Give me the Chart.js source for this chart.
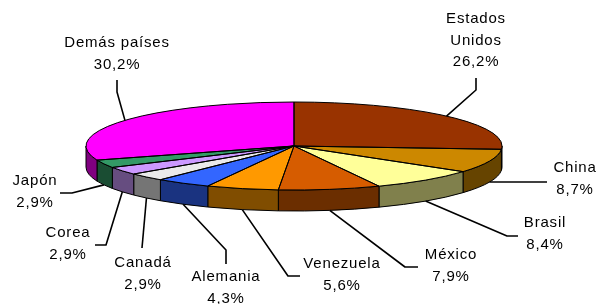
<!DOCTYPE html>
<html><head><meta charset="utf-8">
<script src="https://cdn.jsdelivr.net/npm/chart.js@4"></script>
<style>html,body{margin:0;padding:0;background:#fff;}canvas{display:block;}</style>
</head><body>
<canvas id="c" width="596" height="304"></canvas>
<script>
// ---- data ----
const categories = ['Estados Unidos','China','Brasil','México','Venezuela','Alemania','Canadá','Corea','Japón','Demás países'];
const shares = [26.2, 8.7, 8.4, 7.9, 5.6, 4.3, 2.9, 2.9, 2.9, 30.2];
const labelLines = [['Estados','Unidos'],['China'],['Brasil'],['México'],['Venezuela'],['Alemania'],['Canadá'],['Corea'],['Japón'],['Demás países']];

// ---- style / layout ----
const topColors  = ['#993300','#CC8800','#FFFF99','#D65C00','#FF9900','#3366FF','#EAEAEA','#CC99FF','#339966','#FF00FF'];
const sideColors = ['#4D1A00','#664400','#80804C','#6B2E00','#804D00','#1A3380','#757575','#664D80','#1A4D33','#800080'];
const labelAnchors = [[476,19],[575,168],[545,223],[451,255],[342,264],[226,277],[143,263],[68,233],[35,181],[117,43]];
const leaderBends = [
  [[476,90],[476,78]],
  [[547,182]],
  [[507,236],[518,236]],
  [[405,267],[418,267]],
  [[288,276],[300,276]],
  [[226,250],[226,264]],
  [[142,248]],
  [[106,245],[95,245]],
  [[72,193],[60,193]],
  [[117,92],[117,80]]
];
const TILT = 44/208, DEPTH = 21, LINE_H = 21.5;

const fmt = v => v.toFixed(1).replace('.', ',') + '%';

let geo = null;
const pie3d = {
  id: 'pie3d',
  beforeDatasetsDraw(chart) {
    const ctx = chart.ctx;
    const arcs = chart.getDatasetMeta(0).data;
    const cx = arcs[0].x, cy = arcs[0].y, rx = arcs[0].outerRadius, ry = rx * TILT;
    geo = {cx, cy, rx, ry};
    ctx.save();
    ctx.lineWidth = 1; ctx.strokeStyle = '#000'; ctx.lineJoin = 'round';
    arcs.forEach((arc, i) => {
      const s = Math.max(arc.startAngle, 0), e = Math.min(arc.endAngle, Math.PI);
      if (e <= s) return;
      ctx.beginPath();
      ctx.ellipse(cx, cy, rx, ry, 0, s, e, false);
      ctx.lineTo(cx + rx * Math.cos(e), cy + DEPTH + ry * Math.sin(e));
      ctx.ellipse(cx, cy + DEPTH, rx, ry, 0, e, s, true);
      ctx.closePath();
      ctx.fillStyle = sideColors[i];
      ctx.fill(); ctx.stroke();
    });
    ctx.restore();
    ctx.save();
    ctx.translate(cx, cy); ctx.scale(1, TILT); ctx.translate(-cx, -cy);
  },
  afterDatasetsDraw(chart) {
    const ctx = chart.ctx;
    ctx.restore();
    const {cx, cy, rx, ry} = geo;
    const arcs = chart.getDatasetMeta(0).data;
    ctx.save();
    ctx.lineWidth = 1; ctx.strokeStyle = '#000'; ctx.lineJoin = 'round';
    arcs.forEach(arc => {
      ctx.beginPath();
      ctx.moveTo(cx, cy);
      ctx.lineTo(cx + rx * Math.cos(arc.startAngle), cy + ry * Math.sin(arc.startAngle));
      ctx.ellipse(cx, cy, rx, ry, 0, arc.startAngle, arc.endAngle, false);
      ctx.closePath();
      ctx.stroke();
    });
    // leaders
    ctx.lineWidth = 1.6;
    arcs.forEach((arc, i) => {
      const m = (arc.startAngle + arc.endAngle) / 2;
      let x = cx + rx * Math.cos(m), y = cy + ry * Math.sin(m);
      if (Math.sin(m) > 0) y += DEPTH;
      ctx.beginPath();
      ctx.moveTo(x, y);
      leaderBends[i].forEach(p => ctx.lineTo(p[0], p[1]));
      ctx.stroke();
    });
    // labels
    ctx.fillStyle = '#000';
    ctx.font = '15px "Liberation Sans", Arial, sans-serif';
    ctx.letterSpacing = '0.8px';
    ctx.textAlign = 'center'; ctx.textBaseline = 'middle';
    categories.forEach((c, i) => {
      const lines = labelLines[i].concat([fmt(shares[i])]);
      const [lx, ly] = labelAnchors[i];
      lines.forEach((t, j) => ctx.fillText(t, lx, ly + j * LINE_H));
    });
    ctx.restore();
  }
};

new Chart(document.getElementById('c'), {
  type: 'pie',
  data: {
    labels: categories,
    datasets: [{ data: shares, backgroundColor: topColors, borderWidth: 0, clip: false, hoverOffset: 0 }]
  },
  options: {
    responsive: false,
    animation: false,
    events: [],
    radius: 208,
    layout: { padding: { left: 0, right: 8, top: 0, bottom: 12 } },
    plugins: { legend: { display: false }, tooltip: { enabled: false } }
  },
  plugins: [pie3d]
});
</script>
</body></html>
